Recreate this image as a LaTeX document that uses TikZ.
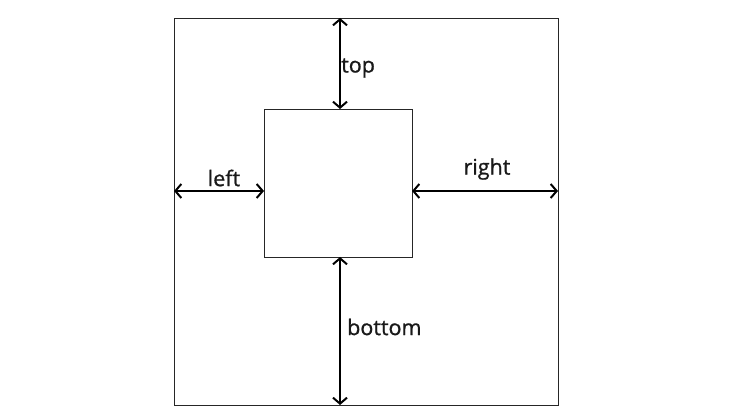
\documentclass[tikz,border=0pt]{standalone}
\usepackage{fontspec}
\setmainfont{Open Sans}
\newfontfamily\labfont{Open Sans}[FakeBold=0.9]
\usetikzlibrary{arrows.meta}
\begin{document}
\begin{tikzpicture}[x=1pt,y=-1pt,
  box/.style={draw=black!85,line width=1pt,inner sep=0pt,anchor=north west},
  dim/.style={draw=black,line width=2pt,{Straight Barb[length=6pt,width=14pt]}-{Straight Barb[length=6pt,width=14pt]}},
  lab/.style={font=\labfont\fontsize{21.5pt}{24pt}\selectfont,inner sep=1pt,text=black!90}]
\useasboundingbox (0,0) rectangle (731,414);
\node[box,minimum width=384pt,minimum height=387pt] (outer) at (174,18) {};
\node[box,minimum width=148pt,minimum height=148pt] (inner) at (264,109) {};
\coordinate (tt) at (340,18);
\coordinate (tb) at (340,109);
\coordinate (bt) at (340,257);
\coordinate (bb) at (340,405);
\coordinate (ll) at (174,191);
\coordinate (lr) at (264,191);
\coordinate (rl) at (412,191);
\coordinate (rr) at (558,191);
\draw[dim] (tt) -- (tb);
\draw[dim] (bt) -- (bb);
\draw[dim] (ll) -- (lr);
\draw[dim] (rl) -- (rr);
\node[lab,anchor=west] (ttop) at (340,68) {top};
\node[lab,anchor=west] (tbottom) at (346,327) {bottom};
\node[lab] (tleft) at (224,178) {left};
\node[lab] (tright) at (487,169) {right};
\end{tikzpicture}
\end{document}
